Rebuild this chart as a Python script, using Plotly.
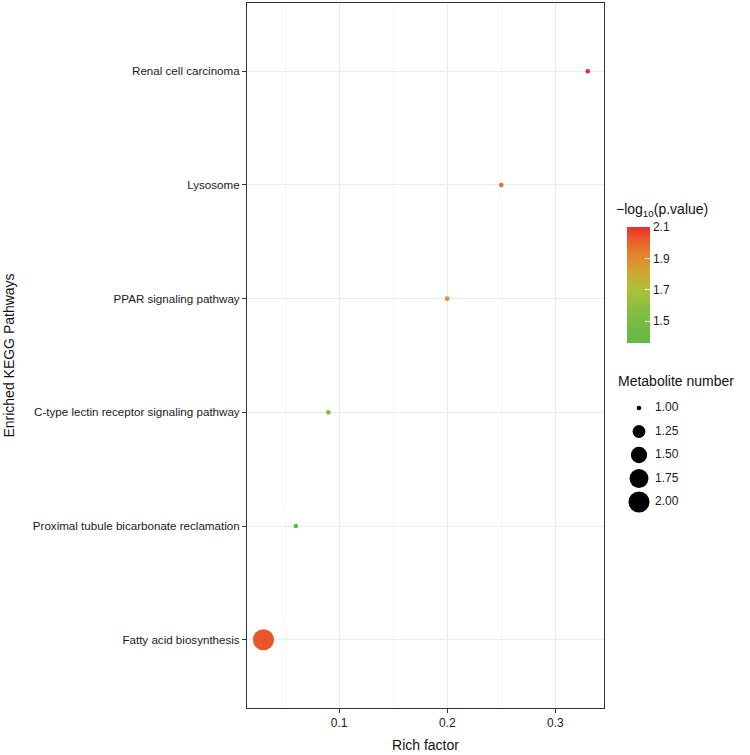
import numpy as np
import plotly.graph_objects as go

pathways = ["Fatty acid biosynthesis",
            "Proximal tubule bicarbonate reclamation",
            "C-type lectin receptor signaling pathway",
            "PPAR signaling pathway",
            "Lysosome",
            "Renal cell carcinoma"]
rich_factor = [0.03, 0.06, 0.09, 0.20, 0.25, 0.33]
neg_log10_p = [2.03, 1.36, 1.52, 1.88, 1.98, 2.10]
metabolite_number = [2, 1, 1, 1, 1, 1]

size_legend_values = [1.00, 1.25, 1.50, 1.75, 2.00]
size_legend_labels = ["1.00", "1.25", "1.50", "1.75", "2.00"]
color_ticks = [1.5, 1.7, 1.9, 2.1]

FONT = "Liberation Sans, Arial, Helvetica, sans-serif"

def px_size(v, vmin=1.0, vmax=2.0):
    v = np.asarray(v, dtype=float)
    s = 1 + 5 * np.sqrt((v - vmin) / (vmax - vmin))
    return 3.3 * s + 1.3

colorscale = [[0.0, "#63b946"], [0.25, "#7fbd41"], [0.45, "#a9c23b"],
              [0.6, "#cfa835"], [0.75, "#e3862f"], [0.88, "#e9602b"],
              [1.0, "#e8302a"]]

fig = go.Figure()
fig.add_trace(go.Scatter(
    x=rich_factor, y=pathways, mode="markers",
    marker=dict(size=px_size(metabolite_number), color=neg_log10_p,
                colorscale=colorscale, cmin=min(neg_log10_p), cmax=max(neg_log10_p),
                opacity=1, line=dict(width=0),
                colorbar=dict(
                    thickness=23, lenmode="pixels", len=116,
                    x=(627 - 247) / 503, xanchor="left",
                    y=(708 - 285) / 705, yanchor="middle",
                    xpad=0, ypad=0, outlinewidth=0,
                    tickvals=color_ticks, ticktext=[f"{t:.1f}" for t in color_ticks],
                    ticks="inside", ticklen=5, tickcolor="white", tickwidth=1,
                    tickfont=dict(size=12, family=FONT, color="#1a1a1a"))),
    showlegend=False, hoverinfo="x+y"))

# size legend built on a small auxiliary axis
fig.add_trace(go.Scatter(
    x=[19] * len(size_legend_values), y=size_legend_values, mode="markers",
    marker=dict(size=px_size(size_legend_values), color="#000000", opacity=1,
                line=dict(width=0)),
    xaxis="x2", yaxis="y2", showlegend=False, hoverinfo="skip"))
fig.add_trace(go.Scatter(
    x=[35] * len(size_legend_values), y=size_legend_values, mode="text",
    text=size_legend_labels, textposition="middle right",
    textfont=dict(size=12, family=FONT, color="#1a1a1a"),
    xaxis="x2", yaxis="y2", showlegend=False, hoverinfo="skip"))

fig.update_layout(
    width=750, height=755,
    margin=dict(l=247, r=0, t=3, b=47, autoexpand=False),
    paper_bgcolor="white", plot_bgcolor="white",
    font=dict(family=FONT, size=12, color="#1a1a1a"),
    xaxis=dict(domain=[0, 357 / 503], range=[0.0148, 0.345], automargin=False,
               tickvals=[0.1, 0.2, 0.3], ticktext=["0.1", "0.2", "0.3"],
               showgrid=True, gridcolor="#ebebeb", gridwidth=1,
               minor=dict(tickvals=[0.05, 0.15, 0.25], showgrid=True,
                          gridcolor="#f4f4f4", gridwidth=1, ticks=""),
               zeroline=False, showline=True, mirror=True, linecolor="#333", linewidth=1,
               ticks="outside", ticklen=4, tickcolor="#333",
               tickfont=dict(size=12, family=FONT, color="#1a1a1a"),
               title=dict(text="Rich factor", standoff=10,
                          font=dict(size=14, family=FONT, color="#111"))),
    yaxis=dict(type="category", categoryorder="array", categoryarray=pathways,
               range=[-0.6, 5.6], automargin=False,
               showgrid=True, gridcolor="#ebebeb", gridwidth=1,
               zeroline=False, showline=True, mirror=True, linecolor="#333", linewidth=1,
               ticks="outside", ticklen=4, tickcolor="#333",
               tickfont=dict(size=11.6, family=FONT, color="#1a1a1a"),
               title=dict(text="Enriched KEGG Pathways", standoff=14,
                          font=dict(size=14, family=FONT, color="#111"))),
    xaxis2=dict(domain=[(620 - 247) / 503, (720 - 247) / 503], range=[0, 100],
                visible=False, fixedrange=True, anchor="y2"),
    yaxis2=dict(domain=[(708 - 515) / 705, (708 - 395) / 705],
                range=[1.5 + 0.6383, 1.5 - 0.6383],
                visible=False, fixedrange=True, anchor="x2"),
    annotations=[
        dict(text="\u2212log<sub>10</sub>(p.value)", xref="paper", yref="paper",
             x=(614 - 247) / 503, y=(708 - 210) / 705,
             xanchor="left", yanchor="middle", showarrow=False,
             font=dict(size=14, family=FONT, color="#111")),
        dict(text="Metabolite number", xref="paper", yref="paper",
             x=(616 - 247) / 503, y=(708 - 381) / 705,
             xanchor="left", yanchor="middle", showarrow=False,
             font=dict(size=14, family=FONT, color="#111"))],
)

fig.write_html("out.html", config={"displayModeBar": False},
               post_script="document.body.style.margin='0';document.body.style.padding='0';")
